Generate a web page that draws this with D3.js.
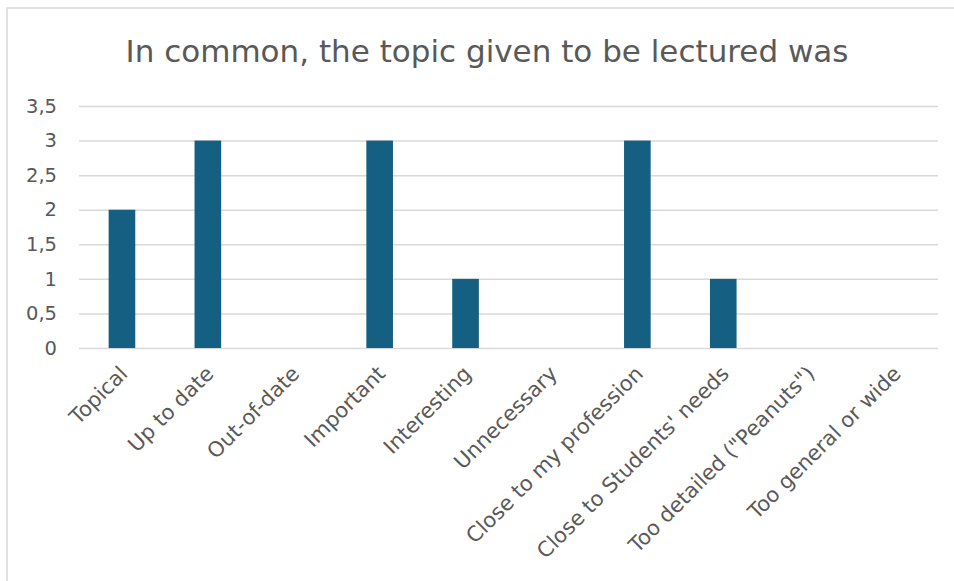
<!DOCTYPE html>
<html>
<head>
<meta charset="utf-8">
<script src="https://cdn.jsdelivr.net/npm/d3@7/dist/d3.min.js"></script>
<style>
  html, body { margin: 0; padding: 0; background: #fff; }
  svg { display: block; }
  text { font-family: "DejaVu Sans", "Liberation Sans", Arial, sans-serif; fill: #595959; }
</style>
</head>
<body>
<svg id="chart" width="954" height="581"></svg>
<script>
// Survey answers: how the lecture topic was judged
const categories = [
  "Topical", "Up to date", "Out-of-date", "Important", "Interesting",
  "Unnecessary", "Close to my profession", "Close to Students' needs",
  "Too detailed (\"Peanuts\")", "Too general or wide"
];
const values = [2, 3, 0, 3, 1, 0, 3, 1, 0, 0];
const yTicks = [0, 0.5, 1, 1.5, 2, 2.5, 3, 3.5];
const title = "In common, the topic given to be lectured was";

const svg = d3.select("#chart");
const W = 954, H = 581;
const plot = { left: 79, right: 938, top: 106, bottom: 348 };

// chart area frame (left and top edges visible)
svg.append("path")
  .attr("d", `M7,${H} L7,8 L${W},8`)
  .attr("fill", "none")
  .attr("stroke", "#d9d9d9")
  .attr("stroke-width", 1.5);

svg.append("text")
  .attr("x", 487)
  .attr("y", 62)
  .attr("text-anchor", "middle")
  .style("font-size", "31px")
  .text(title);

const x = d3.scaleBand()
  .domain(categories)
  .range([plot.left, plot.right])
  .paddingInner(0.69)
  .paddingOuter(0.345);

const y = d3.scaleLinear()
  .domain([0, 3.5])
  .range([plot.bottom, plot.top]);

// horizontal gridlines + value labels
const yAxis = svg.append("g")
  .attr("transform", `translate(${plot.left},0)`)
  .call(d3.axisLeft(y)
    .tickValues(yTicks)
    .tickSize(-(plot.right - plot.left))
    .tickPadding(22)
    .tickFormat(d => String(d).replace(".", ",")));
yAxis.select(".domain").remove();
yAxis.selectAll(".tick line")
  .attr("stroke", "#d9d9d9")
  .attr("stroke-width", 1.5);
yAxis.selectAll(".tick text")
  .style("font-size", "19.5px")
  .attr("fill", "#595959");

// bars
svg.append("g")
  .selectAll("rect")
  .data(values)
  .join("rect")
  .attr("x", (d, i) => x(categories[i]))
  .attr("width", x.bandwidth())
  .attr("y", d => y(d))
  .attr("height", d => y(0) - y(d))
  .attr("fill", "#156082");

// rotated category labels
const xAxis = svg.append("g")
  .attr("transform", `translate(0,${plot.bottom})`)
  .call(d3.axisBottom(x).tickSize(0).tickPadding(0));
xAxis.select(".domain").remove();
xAxis.selectAll(".tick text")
  .attr("text-anchor", "end")
  .attr("dy", null)
  .attr("y", 0)
  .attr("transform", "translate(7,27) rotate(-45)")
  .style("font-size", "21px")
  .attr("fill", "#595959");
</script>
</body>
</html>
